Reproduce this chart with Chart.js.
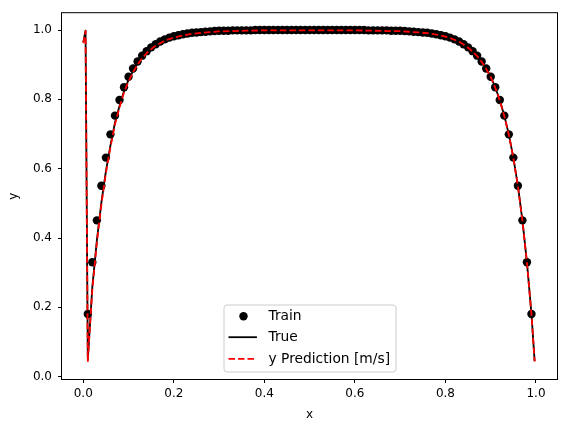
<!DOCTYPE html>
<html><head><meta charset="utf-8">
<script src="https://cdn.jsdelivr.net/npm/chart.js@4.4.1/dist/chart.umd.min.js"></script>
<style>html,body{margin:0;padding:0;background:#fff;overflow:hidden}</style>
</head><body>
<canvas id="c" width="567" height="432"></canvas>
<script>
// ---- data ----
const trainX = [0.01,0.02,0.03,0.04,0.05,0.06,0.07,0.08,0.09,0.10,
  0.11,0.12,0.13,0.14,0.15,0.16,0.17,0.18,0.19,0.20,
  0.21,0.22,0.23,0.24,0.25,0.26,0.27,0.28,0.29,0.30,
  0.31,0.32,0.33,0.34,0.35,0.36,0.37,0.38,0.39,0.40,
  0.41,0.42,0.43,0.44,0.45,0.46,0.47,0.48,0.49,0.50,
  0.51,0.52,0.53,0.54,0.55,0.56,0.57,0.58,0.59,0.60,
  0.61,0.62,0.63,0.64,0.65,0.66,0.67,0.68,0.69,0.70,
  0.71,0.72,0.73,0.74,0.75,0.76,0.77,0.78,0.79,0.80,
  0.81,0.82,0.83,0.84,0.85,0.86,0.87,0.88,0.89,0.90,
  0.91,0.92,0.93,0.94,0.95,0.96,0.97,0.98,0.99];
const trainY = [0.181,0.330,0.451,0.551,0.632,0.699,0.753,0.798,0.835,0.865,
  0.889,0.909,0.926,0.939,0.950,0.959,0.967,0.973,0.978,0.982,
  0.985,0.988,0.990,0.992,0.993,0.994,0.995,0.996,0.997,0.998,
  0.998,0.998,0.999,0.999,0.999,0.999,0.999,1.000,1.000,1.000,
  1.000,1.000,1.000,1.000,1.000,1.000,1.000,1.000,1.000,1.000,
  1.000,1.000,1.000,1.000,1.000,1.000,1.000,1.000,1.000,1.000,
  1.000,1.000,0.999,0.999,0.999,0.999,0.999,0.998,0.998,0.998,
  0.997,0.996,0.995,0.994,0.993,0.992,0.990,0.988,0.985,0.982,
  0.978,0.973,0.967,0.959,0.950,0.939,0.926,0.909,0.889,0.865,
  0.835,0.798,0.753,0.699,0.632,0.551,0.451,0.330,0.181];

const trueX = [0,0.005,0.01,0.02,0.03,0.04,0.05,0.06,0.07,0.08,0.09,0.10,
  0.11,0.12,0.13,0.14,0.15,0.16,0.17,0.18,0.19,0.20,0.22,0.24,0.26,0.28,0.30,
  0.33,0.36,0.40,0.50,0.60,0.64,0.67,0.70,0.72,0.74,0.76,0.78,0.80,
  0.81,0.82,0.83,0.84,0.85,0.86,0.87,0.88,0.89,0.90,
  0.91,0.92,0.93,0.94,0.95,0.96,0.97,0.98,0.99,0.997];
const trueY = [0.965,0.998,0.050,0.259,0.393,0.503,0.593,0.667,0.733,0.781,0.824,0.856,
  0.882,0.904,0.923,0.937,0.948,0.958,0.965,0.972,0.977,0.981,0.987,0.991,0.994,0.996,0.997,
  0.998,0.999,1.000,1.000,1.000,0.999,0.998,0.998,0.996,0.994,0.992,0.988,0.982,
  0.978,0.973,0.967,0.959,0.950,0.939,0.926,0.909,0.889,0.865,
  0.835,0.798,0.753,0.699,0.632,0.551,0.451,0.330,0.181,0.045];

const predX = [0,0.005,0.01,0.02,0.03,0.04,0.05,0.06,0.07,0.08,0.09,0.10,
  0.11,0.12,0.13,0.14,0.15,0.16,0.17,0.18,0.19,0.20,0.22,0.24,0.26,0.28,0.30,
  0.33,0.36,0.40,0.50,0.60,0.64,0.67,0.70,0.72,0.74,0.76,0.78,0.80,
  0.81,0.82,0.83,0.84,0.85,0.86,0.87,0.88,0.89,0.90,
  0.91,0.92,0.93,0.94,0.95,0.96,0.97,0.98,0.99,0.997];
const predY = [0.962,0.997,0.045,0.252,0.387,0.497,0.588,0.662,0.728,0.777,0.820,0.852,
  0.878,0.900,0.919,0.933,0.945,0.955,0.962,0.969,0.974,0.978,0.984,0.989,0.992,0.994,0.996,
  0.997,0.998,0.999,0.999,0.999,0.998,0.997,0.997,0.995,0.993,0.991,0.987,0.981,
  0.977,0.972,0.966,0.958,0.949,0.938,0.925,0.908,0.888,0.864,
  0.834,0.797,0.752,0.698,0.631,0.550,0.450,0.329,0.180,0.044];

const xTicks = [0.0,0.2,0.4,0.6,0.8,1.0];
const yTicks = [0.0,0.2,0.4,0.6,0.8,1.0];
const legendLabels = ['Train','True','y Prediction [m/s]'];
const xTitle = 'x';
const yTitle = 'y';

// ---- build ----
const pts = (xs, ys) => xs.map((x, i) => ({x: x, y: ys[i]}));
const FONT = {family: 'DejaVu Sans', size: 12};

const framePlugin = {
  id: 'frameLegend',
  afterDraw(chart) {
    const ctx = chart.ctx, a = chart.chartArea;
    ctx.save();
    ctx.strokeStyle = '#000';
    ctx.lineWidth = 1;
    ctx.strokeRect(a.left - 0.5, a.top - 0.5, a.right - a.left + 1, a.bottom - a.top + 1);

    // legend box
    const w = 172, h = 67;
    const lx = (a.left + a.right) / 2 - w / 2;
    const ly = a.bottom - 7.5 - h;
    ctx.beginPath();
    ctx.roundRect(lx + 0.5, ly + 0.5, w, h, 3);
    ctx.fillStyle = 'rgba(255,255,255,0.8)';
    ctx.fill();
    ctx.strokeStyle = '#cccccc';
    ctx.stroke();

    const rows = [ly + 11.7, ly + 32.7, ly + 54.3];
    ctx.fillStyle = '#000';
    ctx.beginPath();
    ctx.arc(lx + 20, rows[0], 4.2, 0, Math.PI * 2);
    ctx.fill();
    ctx.strokeStyle = '#000';
    ctx.lineWidth = 1.8;
    ctx.beginPath();
    ctx.moveTo(lx + 5, rows[1]); ctx.lineTo(lx + 33.4, rows[1]);
    ctx.stroke();
    ctx.strokeStyle = '#ff0000';
    ctx.setLineDash([6.5, 3]);
    ctx.beginPath();
    ctx.moveTo(lx + 5, rows[2]); ctx.lineTo(lx + 33.4, rows[2]);
    ctx.stroke();
    ctx.setLineDash([]);

    ctx.fillStyle = '#000';
    ctx.font = '13.8px "DejaVu Sans"';
    ctx.textBaseline = 'middle';
    ctx.textAlign = 'left';
    legendLabels.forEach((t, i) => ctx.fillText(t, lx + 45, rows[i] + 0.5));
    ctx.restore();
  }
};

new Chart(document.getElementById('c'), {
  type: 'scatter',
  data: {
    datasets: [
      {label: legendLabels[0], data: pts(trainX, trainY), showLine: false,
       pointRadius: 4.2, pointHoverRadius: 4.2, pointBackgroundColor: '#000', pointBorderWidth: 0,
       borderColor: '#000', backgroundColor: '#000', order: 3},
      {label: legendLabels[1], data: pts(trueX, trueY), showLine: true, pointRadius: 0,
       borderColor: '#000', borderWidth: 1.8, borderJoinStyle: 'round', borderCapStyle: 'butt', tension: 0, order: 2},
      {label: legendLabels[2], data: pts(predX, predY), showLine: true, pointRadius: 0,
       borderColor: '#ff0000', borderWidth: 1.8, borderDash: [6.5, 3], borderJoinStyle: 'round', tension: 0, order: 1}
    ]
  },
  options: {
    responsive: false,
    animation: false,
    devicePixelRatio: 1,
    layout: {padding: {left: 0, top: 9, right: 10, bottom: 0}},
    plugins: {legend: {display: false}, tooltip: {enabled: false}},
    scales: {
      x: {
        type: 'linear', position: 'bottom', min: -0.047, max: 1.0464,
        afterBuildTicks: s => { s.ticks = xTicks.map(v => ({value: v})); },
        afterFit: s => { s.height = 53; },
        ticks: {font: FONT, color: '#000', padding: 4, maxRotation: 0, autoSkip: false,
                callback: v => v.toFixed(1)},
        grid: {display: true, drawOnChartArea: false, drawTicks: true, tickLength: 4, color: '#000', lineWidth: 1},
        border: {display: false},
        title: {display: true, text: xTitle, font: FONT, color: '#000', padding: {top: 0, bottom: 10}}
      },
      y: {
        type: 'linear', position: 'left', min: -0.0066, max: 1.0485,
        afterBuildTicks: s => { s.ticks = yTicks.map(v => ({value: v})); },
        afterFit: s => { s.width = 62; },
        ticks: {font: FONT, color: '#000', padding: 6, autoSkip: false,
                callback: v => v.toFixed(1)},
        grid: {display: true, drawOnChartArea: false, drawTicks: true, tickLength: 4, color: '#000', lineWidth: 1},
        border: {display: false},
        title: {display: true, text: yTitle, font: FONT, color: '#000', padding: {top: 7, bottom: 0}}
      }
    }
  },
  plugins: [framePlugin]
});
</script>
</body></html>
